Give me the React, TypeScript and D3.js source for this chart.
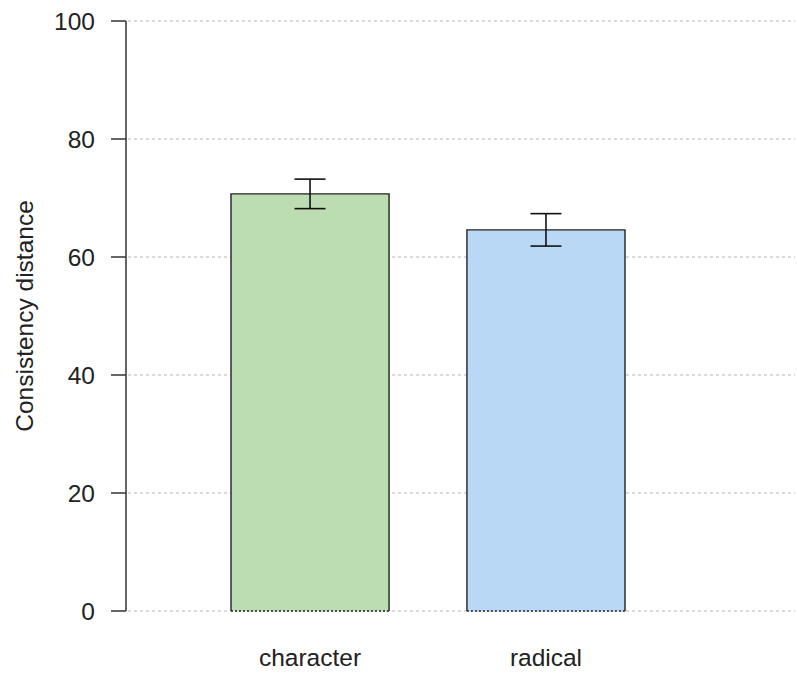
import React from "react";
import * as d3 from "d3";

const categories = ["character", "radical"];
const means = [70.7, 64.6];
const errors = [2.5, 2.75];
const colors = ["#bcdcb1", "#b8d8f5"];
const yTicks = [0, 20, 40, 60, 80, 100];
const yLabel = "Consistency distance";

const W = 797;
const H = 673;

export default function App() {
  const y = d3.scaleLinear().domain([0, 100]).range([611, 21]);
  const x = d3
    .scaleBand<string>()
    .domain(categories)
    .range([126, 730])
    .paddingInner(0.33)
    .paddingOuter(0.445);
  const font = "'Liberation Sans', Arial, sans-serif";
  const bw = x.bandwidth();
  const capHalf = 15.5;
  const fs = 24.5;

  return (
    <svg
      width={W}
      height={H}
      style={{ position: "absolute", left: 0, top: 0, background: "#fff" }}
      fontFamily={font}
    >
      {yTicks.map((t) => (
        <line
          key={"g" + t}
          x1={128}
          x2={795}
          y1={y(t)}
          y2={y(t)}
          stroke="#cfcfcf"
          strokeWidth={1.3}
          strokeDasharray="3,3"
        />
      ))}
      {categories.map((c, i) => {
        const x0 = x(c)!;
        const x1 = x0 + bw;
        const yt = y(means[i]);
        const yb = y(0);
        const cx = x0 + bw / 2;
        return (
          <g key={c}>
            <rect x={x0} y={yt} width={bw} height={yb - yt} fill={colors[i]} />
            <path
              d={`M${x0},${yb}V${yt}H${x1}V${yb}`}
              fill="none"
              stroke="#222"
              strokeWidth={1.4}
            />
            <line
              x1={x0}
              x2={x1}
              y1={yb}
              y2={yb}
              stroke="#222"
              strokeWidth={1.4}
              strokeDasharray="2,2"
            />
            <line
              x1={cx}
              x2={cx}
              y1={y(means[i] + errors[i])}
              y2={y(means[i] - errors[i])}
              stroke="#111"
              strokeWidth={1.6}
            />
            <line
              x1={cx - capHalf}
              x2={cx + capHalf}
              y1={y(means[i] + errors[i])}
              y2={y(means[i] + errors[i])}
              stroke="#111"
              strokeWidth={1.6}
            />
            <line
              x1={cx - capHalf}
              x2={cx + capHalf}
              y1={y(means[i] - errors[i])}
              y2={y(means[i] - errors[i])}
              stroke="#111"
              strokeWidth={1.6}
            />
            <text
              x={cx}
              y={666}
              textAnchor="middle"
              fontSize={fs}
              fill="#222"
            >
              {c}
            </text>
          </g>
        );
      })}
      <line x1={126} x2={126} y1={y(0)} y2={y(100)} stroke="#333" strokeWidth={1.5} />
      {yTicks.map((t) => (
        <g key={"t" + t}>
          <line x1={111} x2={126} y1={y(t)} y2={y(t)} stroke="#333" strokeWidth={1.5} />
          <text
            x={95}
            y={y(t)}
            dy="0.35em"
            textAnchor="end"
            fontSize={fs}
            fill="#222"
          >
            {t}
          </text>
        </g>
      ))}
      <text
        transform={`translate(33,316) rotate(-90)`}
        textAnchor="middle"
        fontSize={fs}
        fill="#222"
      >
        {yLabel}
      </text>
    </svg>
  );
}
